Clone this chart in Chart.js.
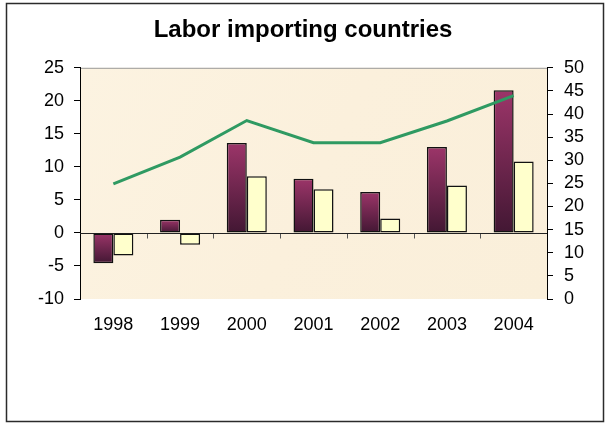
<!DOCTYPE html>
<html>
<head>
<meta charset="utf-8">
<script src="https://cdn.jsdelivr.net/npm/chart.js@4/dist/chart.umd.min.js"></script>
<style>
  html, body { margin: 0; padding: 0; background: #fff; }
  #wrap { position: relative; width: 606px; height: 423px; }
  canvas { display: block; }
</style>
</head>
<body>
<div id="wrap"><canvas id="c" width="606" height="423"></canvas></div>
<script>
// Years on the category axis
const years = ['1998', '1999', '2000', '2001', '2002', '2003', '2004'];
// First bar series (left axis)
const seriesA = [-4.6, 2.0, 13.6, 8.2, 6.2, 13.0, 21.6];
// Second bar series (left axis)
const seriesB = [-3.4, -1.8, 8.6, 6.6, 2.2, 7.2, 10.8];
// Line series (right axis)
const seriesLine = [24.9, 30.7, 38.6, 33.8, 33.8, 38.5, 44.0];
// Axis ranges
const leftTicks = [-10, -5, 0, 5, 10, 15, 20, 25];
const rightTicks = [0, 5, 10, 15, 20, 25, 30, 35, 40, 45, 50];

const FONT = 'Liberation Sans, Arial, sans-serif';

// Vertical maroon gradient spanning each bar
function maroonFill(ctx) {
  const chart = ctx.chart;
  const area = chart.chartArea;
  if (!area || ctx.type !== 'data') return '#8e2f5c';
  const y = chart.scales.y;
  const v = ctx.raw;
  const p0 = y.getPixelForValue(0);
  const p1 = y.getPixelForValue(v);
  const top = Math.min(p0, p1), bot = Math.max(p0, p1);
  const g = chart.ctx.createLinearGradient(0, top, 0, bot + 0.01);
  g.addColorStop(0, '#9c3569');
  g.addColorStop(1, '#421733');
  return g;
}

// Plot background, frame, zero line and its category ticks
const decor = {
  id: 'decor',
  beforeDraw(chart) {
    const { ctx, chartArea: a } = chart;
    ctx.save();
    ctx.fillStyle = '#ffffff';
    ctx.fillRect(0, 0, chart.width, chart.height);
    ctx.strokeStyle = '#2b2b2b';
    ctx.lineWidth = 1.5;
    ctx.strokeRect(6.5, 3.5, 597, 418);
    const g = ctx.createLinearGradient(a.left, a.top, a.right, a.bottom);
    g.addColorStop(0, '#fcf3e1');
    g.addColorStop(0.5, '#fbf0dc');
    g.addColorStop(1, '#faefda');
    ctx.fillStyle = g;
    ctx.fillRect(a.left, a.top, a.right - a.left, a.bottom - a.top);
    ctx.strokeStyle = '#9a9a9a';
    ctx.lineWidth = 1;
    ctx.beginPath();
    ctx.moveTo(a.left, a.top + 0.5);
    ctx.lineTo(a.right, a.top + 0.5);
    ctx.stroke();
    ctx.restore();
  },
  beforeDatasetsDraw(chart) {
    const { ctx, chartArea: a, scales } = chart;
    const y0 = Math.round(scales.y.getPixelForValue(0)) + 0.5;
    const x = scales.x;
    ctx.save();
    ctx.strokeStyle = '#555';
    ctx.lineWidth = 1;
    ctx.beginPath();
    for (let i = 1; i < years.length; i++) {
      const px = Math.round((x.getPixelForValue(i - 1) + x.getPixelForValue(i)) / 2) + 0.5;
      ctx.moveTo(px, y0);
      ctx.lineTo(px, y0 + 5);
    }
    ctx.stroke();
    ctx.strokeStyle = '#222';
    ctx.beginPath();
    ctx.moveTo(a.left, y0);
    ctx.lineTo(a.right, y0);
    ctx.stroke();
    ctx.restore();
  }
};

new Chart(document.getElementById('c'), {
  data: {
    labels: years,
    datasets: [
      {
        type: 'line',
        data: seriesLine,
        yAxisID: 'y2',
        borderColor: '#2f9a62',
        borderWidth: 3,
        pointRadius: 0,
        tension: 0,
        order: 0
      },
      {
        type: 'bar',
        data: seriesA,
        yAxisID: 'y',
        backgroundColor: maroonFill,
        borderColor: '#111',
        borderWidth: 1.5,
        borderSkipped: false,
        categoryPercentage: 0.6,
        barPercentage: 1,
        order: 1
      },
      {
        type: 'bar',
        data: seriesB,
        yAxisID: 'y',
        backgroundColor: '#ffffcc',
        borderColor: '#111',
        borderWidth: 1.5,
        borderSkipped: false,
        categoryPercentage: 0.6,
        barPercentage: 1,
        order: 1
      }
    ]
  },
  options: {
    responsive: false,
    animation: false,
    events: [],
    layout: { padding: 0 },
    plugins: {
      legend: { display: false },
      tooltip: { enabled: false },
      title: {
        display: true,
        text: 'Labor importing countries',
        color: '#000',
        font: { family: FONT, size: 24, weight: 'bold', lineHeight: 1.2 },
        padding: { top: 16, bottom: 23 }
      }
    },
    scales: {
      x: {
        position: 'bottom',
        grid: { display: false, drawTicks: false },
        border: { display: false },
        ticks: { color: '#000', font: { family: FONT, size: 18 }, padding: 15, maxRotation: 0, autoSkip: false },
        afterFit(s) { s.height = 124; }
      },
      y: {
        position: 'left',
        min: -10, max: 25,
        afterBuildTicks(s) { s.ticks = leftTicks.map(v => ({ value: v })); },
        grid: { drawOnChartArea: false, color: '#000', tickLength: 6 },
        border: { display: true, color: '#000', width: 1 },
        ticks: { color: '#000', font: { family: FONT, size: 18 }, padding: 10, autoSkip: false },
        afterFit(s) { s.width = 80; }
      },
      y2: {
        position: 'right',
        min: 0, max: 50,
        afterBuildTicks(s) { s.ticks = rightTicks.map(v => ({ value: v })); },
        grid: { drawOnChartArea: false, color: '#000', tickLength: 6 },
        border: { display: true, color: '#000', width: 1 },
        ticks: { color: '#000', font: { family: FONT, size: 18 }, padding: 11, autoSkip: false },
        afterFit(s) { s.width = 59; }
      }
    }
  },
  plugins: [decor]
});
</script>
</body>
</html>
